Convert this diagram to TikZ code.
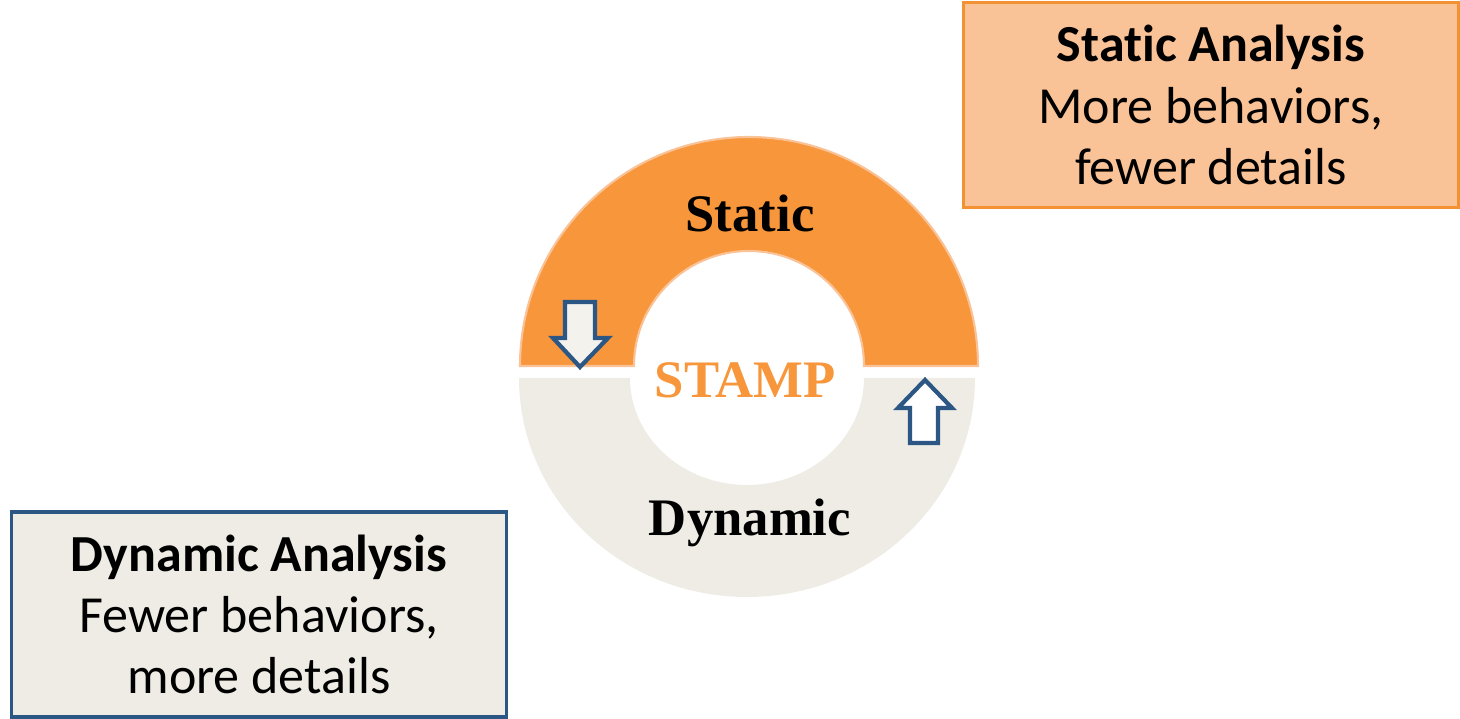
\documentclass[tikz,border=0pt]{standalone}
\usepackage{fontspec}
\setmainfont{Liberation Serif}
\newfontfamily\boxfont[Ligatures=NoCommon]{Carlito}
\definecolor{ringorange}{HTML}{F7963B}
\definecolor{ringgray}{HTML}{EEECE4}
\definecolor{boxorange}{HTML}{FAC397}
\definecolor{lineorange}{HTML}{F39232}
\definecolor{navy}{HTML}{2C5684}
\begin{document}
\begin{tikzpicture}[
				declare function = {
						CX = 7.49;
						CY = 3.53;
						RO = 2.29;
						RI = 1.15;
					},
				ringlabel/.style = {font=\fontsize{15}{18}\selectfont\bfseries},
				analysis/.style = {draw, line width=1pt, minimum width=4.95cm, minimum height=2.05cm,
						align=center, font=\boxfont\fontsize{14.8}{17.4}\selectfont},
				blockarrow/.style = {draw=navy, line width=1.2pt, line join=miter},
			]
			\path[use as bounding box] (0,0) rectangle (14.6,7.19);
			% static half
			\filldraw[fill=ringorange, draw=boxorange, line width=0.6pt] (CX+RO,CY) arc[start angle=0, end angle=180, radius=RO]
				-- (CX-RI,CY) arc[start angle=180, end angle=0, radius=RI] -- cycle;
			% dynamic half
			\fill[ringgray] (CX-0.02+2.28,3.41) arc[start angle=0, end angle=-180, x radius=2.28, y radius=2.19]
				-- (CX-0.02-1.17,3.41) arc[start angle=-180, end angle=0, x radius=1.17, y radius=1.07] -- cycle;
			\node[ringlabel] (static) at (7.50,5.06) {Static};
			\node[ringlabel] (dynamic) at (7.50,1.96) {Dynamic};
			\node[ringlabel, text=ringorange] (stamp) at (7.45,3.39) {STAMP};
			% arrows
			\filldraw[blockarrow, fill=ringgray!70] (5.65,4.17) -- (5.95,4.17) -- (5.95,3.81) -- (6.08,3.81)
				-- (5.80,3.52) -- (5.53,3.81) -- (5.65,3.81) -- cycle;
			\filldraw[blockarrow, fill=white] (9.10,2.76) -- (9.38,2.76) -- (9.38,3.11) -- (9.52,3.11)
				-- (9.25,3.39) -- (8.98,3.11) -- (9.10,3.11) -- cycle;
			% boxes
			\node[analysis, draw=lineorange, fill=boxorange] (staticbox) at (12.11,6.14)
				{\textbf{Static Analysis}\\More behaviors,\\fewer details};
			\node[analysis, draw=navy, fill=ringgray] (dynamicbox) at (2.59,1.045)
				{\textbf{Dynamic Analysis}\\Fewer behaviors,\\more details};
		\end{tikzpicture}
\end{document}
